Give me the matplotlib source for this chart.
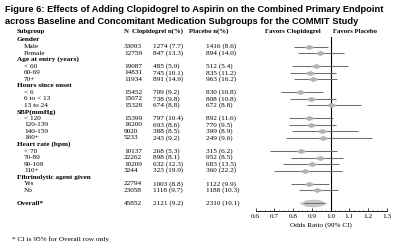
import matplotlib
matplotlib.use('Agg')
import matplotlib.pyplot as plt
import numpy as np
from matplotlib.path import Path
from matplotlib.transforms import blended_transform_factory

# ---------------- data ----------------
labels = ["Gender", "Male", "Female",
          "Age at entry (years)", "< 60", "60-69", "70+",
          "Hours since onset", "< 6", "6 to < 13", "13 to 24",
          "SBP(mmHg)", "< 120", "120-139", "140-159", "160+",
          "Heart rate (bpm)", "< 70", "70-89", "90-109", "110+",
          "Fibrinolytic agent given", "Yes", "No",
          "", "Overall*"]
is_header = [1, 0, 0,
             1, 0, 0, 0,
             1, 0, 0, 0,
             1, 0, 0, 0, 0,
             1, 0, 0, 0, 0,
             1, 0, 0,
             0, 1]
n_vals = ["", "33093", "12759",
          "", "19087", "14831", "11934",
          "", "15452", "15072", "15328",
          "", "15399", "16200", "9020", "5233",
          "", "10137", "22262", "10209", "3244",
          "", "22794", "23058",
          "", "45852"]
clop_txt = ["", "1274 (7.7)", "847 (13.3)",
            "", "485 (5.0)", "745 (10.1)", "891 (14.9)",
            "", "709 (9.2)", "738 (9.8)", "674 (8.8)",
            "", "797 (10.4)", "693 (8.6)", "388 (8.5)", "243 (9.2)",
            "", "268 (5.3)", "898 (8.1)", "632 (12.3)", "323 (19.9)",
            "", "1003 (8.8)", "1118 (9.7)",
            "", "2121 (9.2)"]
plac_txt = ["", "1416 (8.6)", "894 (14.0)",
            "", "512 (5.4)", "835 (11.2)", "963 (16.2)",
            "", "830 (10.8)", "808 (10.8)", "672 (8.8)",
            "", "892 (11.6)", "770 (9.5)", "399 (8.9)", "249 (9.6)",
            "", "315 (6.2)", "952 (8.5)", "683 (13.5)", "360 (22.2)",
            "", "1122 (9.9)", "1188 (10.3)",
            "", "2310 (10.1)"]
nan = np.nan
odds = [nan, 0.887, 0.944,
        nan, 0.924, 0.893, 0.907,
        nan, 0.837, 0.896, 1.004,
        nan, 0.886, 0.895, 0.952, 0.958,
        nan, 0.840, 0.946, 0.903, 0.866,
        nan, 0.885, 0.930,
        nan, 0.908]
ci_lo = [nan, 0.805, 0.828,
         nan, 0.793, 0.783, 0.805,
         nan, 0.735, 0.783, 0.873,
         nan, 0.778, 0.780, 0.793, 0.762,
         nan, 0.677, 0.789, 0.748, 0.700,
         nan, 0.790, 0.833,
         nan, 0.858]
ci_hi = [nan, 0.985, 1.074,
         nan, 1.095, 1.028, 1.033,
         nan, 0.962, 1.028, 1.161,
         nan, 1.012, 1.028, 1.145, 1.220,
         nan, 1.036, 1.065, 1.047, 1.060,
         nan, 0.994, 1.040,
         nan, 0.965]
xticks = [0.6, 0.7, 0.8, 0.9, 1.0, 1.1, 1.2, 1.3]

# ---------------- figure ----------------
W, H = 400, 252
fig = plt.figure(figsize=(W / 100, H / 100), dpi=100)
fig.patch.set_facecolor('white')

def fx(px):
    return px / W

def fy(py):
    return 1 - py / H

ax_left, ax_right = 255.7, 386.6
ax_bot, ax_top = 210.7, 37.0
row0, row_step = 40.0, 6.53
ax = fig.add_axes([fx(ax_left), fy(ax_bot), fx(ax_right - ax_left), (ax_bot - ax_top) / H])
ax.set_xlim(0.6, 1.3)
ax.set_ylim((ax_bot - row0) / row_step, (ax_top - row0) / row_step)

serif = 'Liberation Serif'
fs = 5.2
tr = blended_transform_factory(fig.transFigure, ax.transData)

# diamond-ish marker elongated horizontally
dverts = [(-1.0, 0.0), (0.0, 0.45), (1.0, 0.0), (0.0, -0.45), (-1.0, 0.0)]
dmark = Path(dverts, [Path.MOVETO, Path.LINETO, Path.LINETO, Path.LINETO, Path.CLOSEPOLY])
overts = [(-1.0, 0.0), (-0.5, 0.22), (0.0, 0.27), (0.5, 0.22), (1.0, 0.0),
          (0.5, -0.22), (0.0, -0.27), (-0.5, -0.22), (-1.0, 0.0)]
omark = Path(overts, [Path.MOVETO] + [Path.LINETO] * 7 + [Path.CLOSEPOLY])

for i, lab in enumerate(labels):
    if lab:
        bold = bool(is_header[i])
        x = 17 if bold else 24
        ax.text(fx(x), i, lab, transform=tr, fontsize=fs, family=serif,
                fontweight='bold' if bold else 'normal', va='center', ha='left', clip_on=False)
    if n_vals[i]:
        ax.text(fx(124), i, n_vals[i], transform=tr, fontsize=fs, family=serif,
                va='center', ha='left', clip_on=False)
        ax.text(fx(153), i, clop_txt[i], transform=tr, fontsize=fs, family=serif,
                va='center', ha='left', clip_on=False)
        ax.text(fx(206), i, plac_txt[i], transform=tr, fontsize=fs, family=serif,
                va='center', ha='left', clip_on=False)
    if not np.isnan(odds[i]):
        overall = labels[i].startswith('Overall')
        if overall:
            ax.plot(odds[i], i, marker=omark, markersize=19, color='#c8c8c8',
                    mec='#a8a8a8', mew=0.3, linestyle='none', zorder=2)
            ax.plot([ci_lo[i], ci_hi[i]], [i, i], color='#6e6e6e', lw=0.75,
                    solid_capstyle='butt', zorder=3)
        else:
            ax.plot([ci_lo[i], ci_hi[i]], [i, i], color='#6e6e6e', lw=0.75,
                    solid_capstyle='butt', zorder=2)
            ax.plot(odds[i], i, marker=dmark, markersize=7, color='#b4b4b4',
                    mec='#9a9a9a', mew=0.3, linestyle='none', zorder=3)

# header row
hy = -1.3
hdrs = [(17, "Subgroup"), (124, "N"), (132, "Clopidogrel n(%)"), (189, "Placebo n(%)"),
        (265, "Favors Clopidogrel"), (333, "Favors Placebo")]
for x, t in hdrs:
    ax.text(fx(x), hy, t, transform=tr, fontsize=fs - 0.3, family=serif, fontweight='bold',
            va='center', ha='left', clip_on=False)

ax.axvline(1.0, color='black', lw=0.8, zorder=1)
for s in ['top', 'right', 'left']:
    ax.spines[s].set_visible(False)
ax.spines['bottom'].set_linewidth(0.6)
ax.set_yticks([])
ax.set_xticks(xticks)
ax.set_xticklabels([f"{v:.1f}" for v in xticks], family=serif, fontsize=fs)
ax.set_xticks(np.arange(0.6, 1.3001, 0.025), minor=True)
ax.tick_params(axis='x', which='major', direction='in', length=2.0, width=0.5, pad=2.5)
ax.tick_params(axis='x', which='minor', direction='in', length=1.0, width=0.4)
ax.set_xlabel("Odds Ratio (99% CI)", family=serif, fontsize=fs, labelpad=2.5)

# title
title1 = "Figure 6: Effects of Adding Clopidogrel to Aspirin on the Combined Primary Endpoint"
title2 = "across Baseline and Concomitant Medication Subgroups for the COMMIT Study"
fig.text(fx(5), fy(10), title1, fontsize=6.7, fontweight='bold', family='Liberation Sans',
         va='center', ha='left')
fig.text(fx(5), fy(21.5), title2, fontsize=6.7, fontweight='bold', family='Liberation Sans',
         va='center', ha='left')

fig.text(fx(12), fy(239), "* CI is 95% for Overall row only", fontsize=5.2, family=serif,
         va='center', ha='left')

fig.savefig('out.png', dpi=100, facecolor='white')
